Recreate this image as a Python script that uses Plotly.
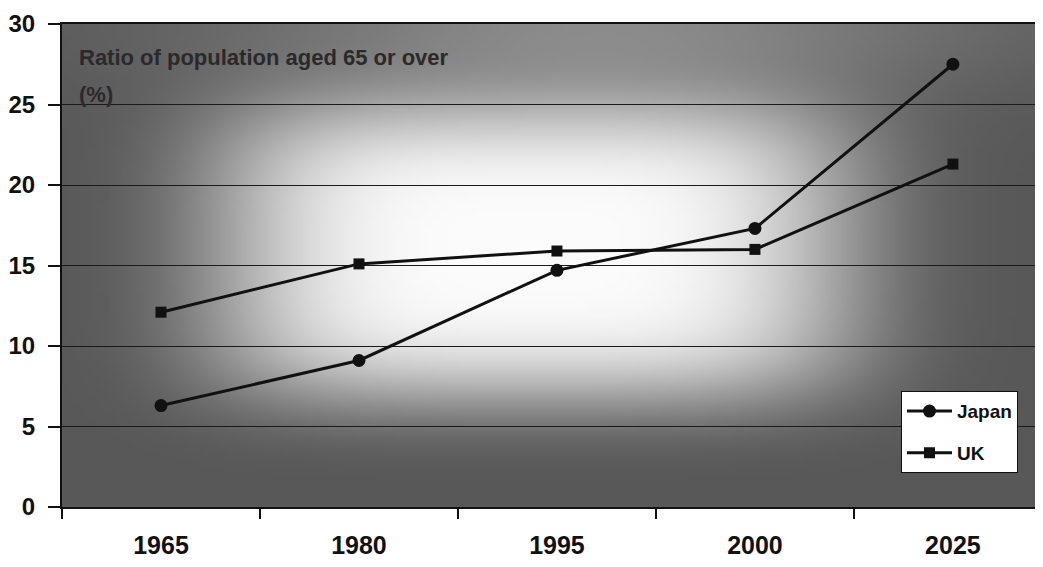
import base64, math, struct, zlib
import plotly.graph_objects as go

# ---- data ----
years = ["1965", "1980", "1995", "2000", "2025"]
japan = [6.3, 9.1, 14.7, 17.3, 27.5]
uk = [12.1, 15.1, 15.9, 16.0, 21.3]
y_ticks = [0, 5, 10, 15, 20, 25, 30]
title_line1 = "Ratio of population aged 65 or over"
title_line2 = "(%)"


# ---- background gradient image (decoration only) ----
def make_png(w, h, fn):
    rows = []
    for j in range(h):
        row = bytearray([0])
        for i in range(w):
            row.append(max(0, min(255, int(fn(i / (w - 1), j / (h - 1))))))
        rows.append(bytes(row))
    raw = b"".join(rows)

    def chunk(tag, data):
        c = struct.pack(">I", len(data)) + tag + data
        return c + struct.pack(">I", zlib.crc32(tag + data) & 0xFFFFFFFF)

    png = b"\x89PNG\r\n\x1a\n"
    png += chunk(b"IHDR", struct.pack(">IIBBBBB", w, h, 8, 0, 0, 0, 0))
    png += chunk(b"IDAT", zlib.compress(raw, 9))
    png += chunk(b"IEND", b"")
    return "data:image/png;base64," + base64.b64encode(png).decode()


def shade(u, v):
    core = math.exp(-(((u - 0.48) / 0.33) ** 4) - (((v - 0.47) / 0.32) ** 4))
    top = 50 * math.exp(-((v / 0.15) ** 2)) * math.exp(-(((u - 0.55) / 0.38) ** 2))
    return 88 + 164 * core + top


bg = make_png(200, 100, shade)

fig = go.Figure()
fig.add_trace(go.Scatter(
    x=years, y=japan, name="Japan", mode="lines+markers", legendgroup="a",
    line=dict(color="#111111", width=3),
    marker=dict(symbol="circle", size=13, color="#111111"),
))
fig.add_trace(go.Scatter(
    x=years, y=uk, name="UK", mode="lines+markers", legendgroup="b",
    line=dict(color="#111111", width=3),
    marker=dict(symbol="square", size=11, color="#111111"),
))

fig.add_layout_image(dict(
    source=bg, xref="paper", yref="paper", x=0, y=1, sizex=1, sizey=1,
    xanchor="left", yanchor="top", sizing="stretch", layer="below",
))

title_font = dict(family="Liberation Sans, Arial, sans-serif", size=22,
                  color="#2a2a2a", weight="bold")
fig.add_annotation(text=title_line1, xref="paper", yref="paper", x=0.015,
                   y=0.93, xanchor="left", yanchor="middle", showarrow=False,
                   font=title_font)
fig.add_annotation(text=title_line2, xref="paper", yref="paper", x=0.015,
                   y=0.855, xanchor="left", yanchor="middle", showarrow=False,
                   font=title_font)

tick_family = "Liberation Sans, Arial, sans-serif"

fig.update_layout(
    width=1035, height=559,
    margin=dict(l=54, r=0, t=16, b=60),
    paper_bgcolor="white", plot_bgcolor="#9a9a9a",
    showlegend=True,
    legend=dict(
        x=0.9745, y=0.07, xanchor="right", yanchor="bottom",
        bgcolor="white", bordercolor="#111111", borderwidth=1,
        font=dict(family="Liberation Sans, Arial, sans-serif", size=19,
                  color="#111111", weight="bold"),
        tracegroupgap=14, itemwidth=45,
    ),
    xaxis=dict(
        type="category", range=[-0.5, 4.455], tickson="boundaries",
        showgrid=False, ticks="outside", ticklen=10, tickwidth=2,
        tickcolor="#111111", showline=True, linecolor="#111111", linewidth=2,
        mirror=True, ticklabelstandoff=15, automargin=False,
        tickfont=dict(family=tick_family, size=25, color="#111111", weight="bold"),
    ),
    yaxis=dict(
        range=[0, 30], tickvals=y_ticks, showgrid=True, gridcolor="#1a1a1a",
        gridwidth=1, ticks="outside", ticklen=12, tickwidth=1.5,
        tickcolor="#111111", showline=True, linecolor="#111111", linewidth=2,
        zeroline=False, automargin=False, ticklabelstandoff=8,
        tickfont=dict(family=tick_family, size=24, color="#111111", weight="bold"),
    ),
)

fig.write_html("out.html")
